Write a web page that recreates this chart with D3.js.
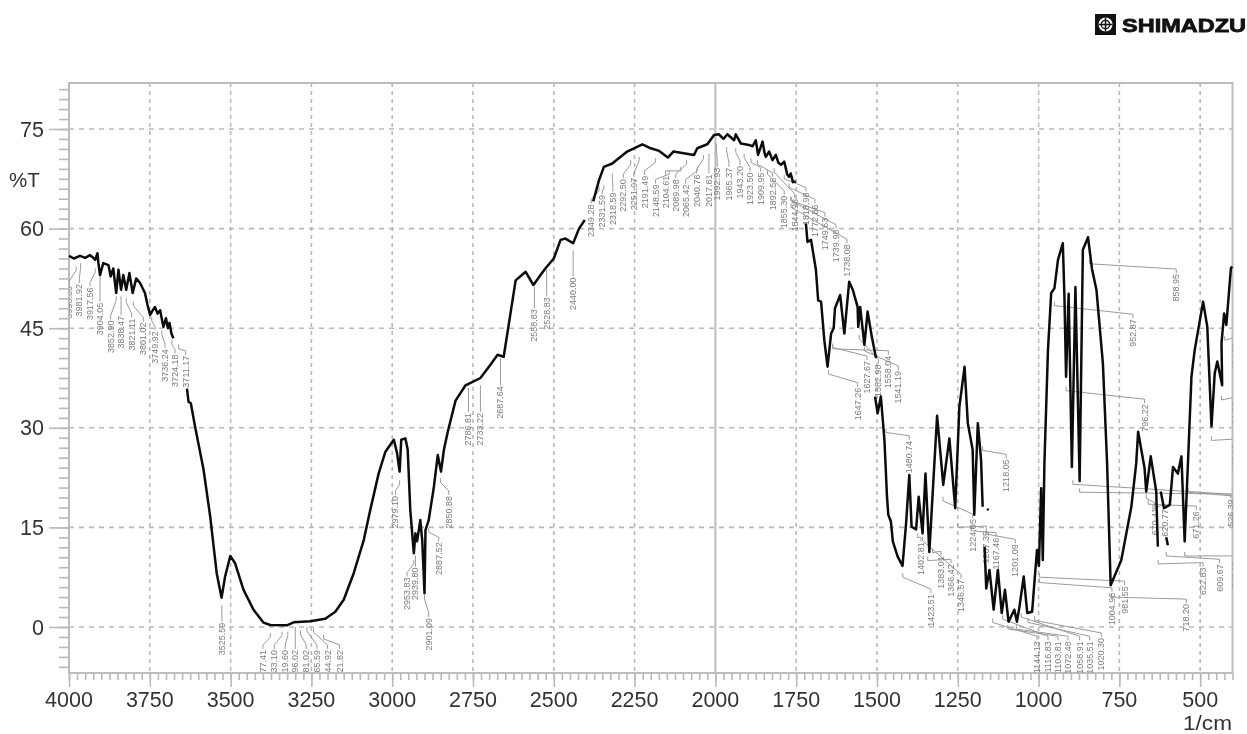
<!DOCTYPE html>
<html><head><meta charset="utf-8">
<script src="https://cdn.jsdelivr.net/npm/d3@7/dist/d3.min.js"></script>
<style>
html,body{margin:0;padding:0;background:#fff}
svg{display:block;filter:blur(0.55px)}
text{font-family:"Liberation Sans",Arial,sans-serif}
</style></head><body>
<svg id="chart" width="1247" height="734"></svg>
<script>
// [wavenumber (1/cm), %T]; null marks a break in the printed trace
const spectrum = [
[4000,55.9],[3985,55.5],[3966,55.9],[3950,55.6],[3935,56.0],[3925,55.6],[3919,55.3],[3912,56.3],[3909,54.8],[3904,53.0],[3894,54.8],[3878,54.5],[3871,52.8],[3863,54.0],[3854,50.3],[3847,53.8],[3839,50.8],[3832,53.0],[3823,50.8],[3813,53.3],[3803,50.3],[3792,52.5],[3780,51.8],[3765,50.3],[3757,48.5],[3749,47.0],[3742,47.6],[3734,48.2],[3726,47.2],[3718,47.7],[3708,45.2],[3700,46.5],[3694,45.0],[3689,45.8],[3683,44.2],[3677,43.5],null,
[3635,35.9],[3630,33.9],[3623,33.7],[3610,30.2],[3584,23.8],[3563,16.6],[3543,8.1],[3528,4.4],[3517,7.6],[3501,10.7],[3486,9.6],[3460,5.6],[3429,2.6],[3398,0.65],[3377,0.3],[3326,0.25],[3305,0.7],[3254,0.85],[3207,1.25],[3176,2.3],[3150,4.1],[3119,8.1],[3088,13.1],[3068,17.6],[3042,23.1],[3021,26.4],[2995,28.2],[2985,26.2],[2977,23.4],[2972,28.2],[2959,28.4],[2952,26.7],[2944,17.6],[2933,11.1],[2928,14.1],[2923,12.9],[2913,16.1],[2907,13.0],[2900,5.1],[2897,14.6],[2887,16.1],[2871,21.1],[2859,25.9],[2849,23.4],[2840,26.7],[2828,29.4],
[2804,34.1],[2773,36.4],[2727,37.5],[2696,39.5],[2674,41.0],[2655,40.7],[2618,52.2],[2587,53.5],[2563,51.5],[2541,53.0],[2526,54.0],[2500,55.5],[2479,58.3],[2464,58.5],[2440,57.8],[2422,60.0],[2404,61.3],null,
[2378,64.1],[2360,67.3],[2345,69.3],[2319,69.8],[2273,71.6],[2226,72.7],[2200,72.1],[2174,71.7],[2147,70.7],[2130,71.6],[2066,71.1],[2056,72.1],[2025,72.7],[2004,74.1],[1989,74.2],[1975,73.5],[1963,74.2],[1942,73.3],[1937,74.2],[1921,72.8],[1896,72.6],[1885,72.4],[1875,73.3],[1868,71.1],[1854,73.1],[1848,71.4],[1844,70.8],[1834,71.6],[1823,70.3],[1813,71.1],[1805,69.9],[1797,69.6],[1787,70.1],[1778,68.2],[1772,67.8],[1767,68.3],[1760,67.0],[1751,67.1],null,
[1720,60.8],[1715,58.0],[1704,58.3],[1689,53.8],[1682,49.2],[1673,49.0],[1663,43.2],[1653,39.2],[1642,44.2],[1634,45.0],[1630,48.0],[1614,50.0],[1601,44.2],[1586,52.0],[1575,50.8],[1560,48.2],[1558,45.2],[1552,48.2],[1539,42.5],[1529,47.5],[1516,43.7],[1503,40.5],null,
[1506,34.7],[1498,32.2],[1488,34.7],[1477,28.2],[1469,19.6],[1465,16.9],[1457,15.9],[1451,12.9],[1436,10.6],[1421,9.2],[1410,15.6],[1400,22.9],[1393,15.1],[1379,14.7],[1371,19.6],[1359,14.1],[1350,23.1],[1338,11.3],[1326,21.6],[1314,31.8],[1295,21.4],[1276,28.4],[1258,17.9],[1245,33.2],[1229,39.2],[1219,30.7],[1204,26.7],[1199,16.9],[1188,30.7],[1178,25.2],[1173,18.1],null,
[1159,17.8],[1155,17.6],null,
[1167,12.1],[1162,5.8],[1152,8.6],[1139,2.6],[1126,8.6],[1114,2.1],[1104,5.6],[1093,0.8],[1075,2.6],[1067,0.8],[1059,3.1],[1046,7.6],[1035,2.1],[1020,2.3],[1005,11.6],[999,9.2],[992,20.9],[987,10.1],[982,24.6],[971,41.7],[961,50.3],[951,51.0],[940,55.3],[925,57.8],[920,49.7],[915,37.7],[907,50.2],[897,24.1],[886,51.2],[873,22.0],[863,56.8],[847,58.7],[835,54.0],[821,50.8],[801,39.7],[788,24.6],[777,6.3],[744,10.1],[713,18.1],[698,24.6],[692,29.4],[672,23.9],[667,20.4],[653,25.7],[636,20.4],[631,12.1],null,
[622,20.4],[612,17.9],[594,18.4],[584,24.1],[569,23.1],[558,25.7],[548,12.9],[537,25.7],[527,37.7],[517,41.7],[491,49.0],[478,45.2],[465,30.2],[455,38.2],[447,40.0],[432,36.4],[434,42.7],[426,47.2],[419,45.5],[405,54.0],[401,54.3],null,
[605,13.5],[600,12.3]
];

// [label, peak wavenumber, peak %T, label wavenumber, label top %T]
const peakLabels = [
["3993.35",3978,54.3,3999,51.5],["3981.92",3964,54.8,3968,51.8],["3917.56",3919,54.0,3935,51.3],["3904.05",3904,52.8,3904,49.0],
["3852.90",3854,49.8,3871,46.3],["3838.47",3839,49.8,3839,47.0],["3821.11",3823,49.5,3806,46.6],["3801.02",3801,49.0,3770,46.0],
["3749.92",3744,46.7,3734,44.7],["3736.24",3713,44.7,3703,42.0],["3724.18",3682,43.2,3672,41.2],["3711.17",3661,42.5,3639,41.0],
["3525.59",3527,3.3,3527,0.8],["3377.41",3377,-0.95,3400,-3.3],["3333.10",3341,-0.7,3365,-3.3],["3319.60",3323,-0.7,3331,-3.3],
["3296.02",3300,0,3300,-3.3],["3281.02",3284,-0.5,3266,-3.3],["3265.59",3264,0,3233,-3.3],["3244.92",3243,-0.2,3200,-3.3],["3221.82",3212,-1.2,3163,-3.3],
["2979.10",2977,22.1,2990,19.9],["2953.83",2933,10.1,2954,7.6],["2939.80",2928,10.8,2928,9.1],["2901.09",2900,4.8,2887,1.5],["2887.52",2887,14.9,2856,12.9],["2850.88",2851,22.4,2825,19.9],
["2786.81",2764,36.0,2764,32.4],["2733.22",2727,36.4,2727,32.4],["2687.64",2665,40.5,2665,36.4],
["2558.83",2560,51.2,2560,48.0],["2528.83",2522,53.8,2522,49.8],["2440.00",2440,56.7,2440,52.8],
["2349.28",2360,66.3,2384,63.8],["2331.59",2345,66.5,2350,65.2],["2318.59",2319,68.3,2317,65.6],["2292.50",2262,70.3,2285,67.6],["2251.97",2236,70.8,2252,67.8],["2191.49",2185,70.6,2219,68.1],["2148.59",2143,68.8,2185,66.8],["2104.61",2107,69.3,2154,68.1],["2089.98",2089,70.3,2123,67.6],["2065.42",2056,69.3,2092,66.8],["2040.76",2037,71.1,2058,68.3],["2017.61",2020,71.3,2020,68.3],
["1992.93",1997,72.8,1994,69.3],["1965.37",1965,72.3,1958,69.3],["1943.20",1937,72.1,1924,69.6],["1923.50",1911,71.3,1893,68.6],["1909.95",1890,70.6,1860,68.6],["1892.56",1870,70.3,1823,67.8],["1855.30",1839,68.8,1787,65.1],["1844.98",1818,69.1,1754,64.6],["1818.98",1787,68.1,1720,65.6],["1772.86",1772,66.8,1692,63.8],["1749.63",1766,64.8,1661,61.8],["1739.98",1766,64.8,1627,60.0],["1738.08",1766,63.8,1593,57.8],
["1647.26",1650,38.7,1560,36.2],["1627.67",1637,42.7,1531,40.2],["1582.98",1555,44.0,1496,39.7],["1558.04",1637,42.5,1465,41.0],["1541.19",1539,42.2,1434,38.7],
["1480.74",1472,29.9,1400,28.2],["1423.51",1420,8.1,1333,5.1],["1402.81",1374,14.1,1364,12.9],["1383.01",1328,11.8,1302,10.8],["1366.42",1343,10.6,1271,9.6],["1346.57",1359,13.6,1240,7.3],
["1218.05",1173,27.2,1100,25.4],["1224.05",1296,19.6,1204,16.4],["1207.35",1250,15.6,1162,14.6],["1167.46",1209,15.1,1131,13.6],["1201.09",1162,14.6,1072,12.6],
["1144.13",1142,1.3,1005,-2.0],["1116.83",1111,1.8,971,-2.0],["1103.81",1095,0.3,940,-2.0],["1072.48",1069,0.3,909,-2.0],["1058.91",1054,2.1,873,-2.0],["1035.51",1033,1.3,842,-2.0],["1020.30",1013,1.6,806,-1.5],
["858.95",842,55.3,574,53.3],["952.87",951,49.0,708,46.5],["796.22",915,36.2,672,33.7],
["1004.96",997,7.3,773,5.3],["981.55",997,8.1,734,6.3],["718.20",775,5.1,543,3.6],["622.83",630,10.1,491,9.1],["609.67",605,11.3,440,9.6],
["526.39",894,22.1,405,19.4],["671.26",661,19.1,512,17.6],["670.41",667,20,641,18.1],["620.77",646,18.4,608,17.9],
["465.11",465,28.7,392,27.7],["434.62",434,34.8,392,34.0],["424.30",424,43.8,392,43.0],["873.20",873,20.9,392,19.4],["548.10",548,11.3,392,10.1],["537.44",537,20.9,392,19.1]
];

const majorWn = [4000,3750,3500,3250,3000,2750,2500,2250,2000,1750,1500,1250,1000,750,500];
const majorT = [75,60,45,30,15,0];
const yTitle = "%T", xTitle = "1/cm", brand = "SHIMADZU";

const svg = d3.select("#chart");
const x = d3.scaleLinear().domain([4000,400]).range([69,1232.5]);
const y = d3.scaleLinear().domain([0,75]).range([627,129]);
const plotTop = 83, plotBottom = 673, plotLeft = x(4000), plotRight = x(400);
const grey = "#b9b9b9";

svg.append("clipPath").attr("id","plot").append("rect").attr("x",plotLeft).attr("y",plotTop).attr("width",plotRight-plotLeft).attr("height",plotBottom-plotTop);

// grid
svg.append("g").selectAll("line").data(majorWn.slice(1)).join("line")
  .attr("x1",d=>x(d)).attr("x2",d=>x(d)).attr("y1",plotTop).attr("y2",plotBottom)
  .attr("stroke",d=>d===2000?"#bdbdbd":grey).attr("stroke-width",d=>d===2000?2:1.6).attr("stroke-dasharray",d=>d===2000?null:"4 4");
svg.append("g").selectAll("line").data(majorT).join("line")
  .attr("x1",plotLeft).attr("x2",plotRight).attr("y1",d=>y(d)).attr("y2",d=>y(d))
  .attr("stroke",grey).attr("stroke-width",1.6).attr("stroke-dasharray","5 5");

// axes via d3-axis
const xMinor = d3.range(4000,399,-25);
const yMinor = d3.range(-6,82,1.5);
const styleAxis = g => { g.selectAll("path").remove(); g.selectAll("line").attr("stroke",grey).attr("stroke-width",1.6); };
svg.append("g").attr("transform",`translate(0,${plotBottom})`).call(d3.axisBottom(x).tickValues(xMinor).tickSize(7).tickFormat("")).call(styleAxis);
svg.append("g").attr("transform",`translate(0,${plotBottom})`).call(d3.axisBottom(x).tickValues(majorWn).tickSize(14).tickFormat("")).call(styleAxis);
svg.append("g").attr("transform",`translate(${plotLeft},0)`).call(d3.axisLeft(y).tickValues(yMinor).tickSize(10).tickFormat("")).call(styleAxis);
svg.append("g").attr("transform",`translate(${plotLeft},0)`).call(d3.axisLeft(y).tickValues(majorT).tickSize(20).tickFormat("")).call(styleAxis);

svg.append("rect").attr("x",plotLeft).attr("y",plotTop).attr("width",plotRight-plotLeft).attr("height",plotBottom-plotTop)
  .attr("fill","none").attr("stroke","#bcbcbc").attr("stroke-width",2);

// tick labels
svg.append("g").selectAll("text").data(majorWn).join("text")
  .attr("x",d=>x(d)).attr("y",707).attr("text-anchor","middle").attr("font-size",21.5).attr("fill","#333").text(d=>d);
svg.append("g").selectAll("text").data(majorT).join("text")
  .attr("x",44).attr("y",d=>y(d)+7.5).attr("text-anchor","end").attr("font-size",21.5).attr("fill","#333").text(d=>d);
svg.append("text").attr("x",9).attr("y",187).attr("font-size",20.5).attr("fill","#333").text(yTitle);
svg.append("text").attr("x",1183).attr("y",729.5).attr("font-size",20.5).attr("fill","#333")
  .attr("textLength",49).attr("lengthAdjust","spacingAndGlyphs").text(xTitle);

// peak leaders and labels
const labels = svg.append("g").attr("clip-path","url(#plot)");
const lead = 4;
labels.selectAll("path").data(peakLabels).join("path")
  .attr("fill","none").attr("stroke","#9a9a9a").attr("stroke-width",1)
  .attr("d",d=>{
    const x0=x(d[1]),y0=y(d[2]),x1=x(d[3]),y1=y(d[4]);
    const p=d3.path(); p.moveTo(x0,y0); p.lineTo(x0,y0+lead);
    p.lineTo(x1,y1-lead); p.lineTo(x1,y1); return p.toString();
  });
labels.selectAll("text").data(peakLabels).join("text")
  .attr("transform",d=>`translate(${x(d[3])+3},${y(d[4])+1}) rotate(-90)`)
  .attr("text-anchor","end").attr("font-size",9).attr("fill","#7c7c7c").text(d=>d[0]);

// spectrum
const line = d3.line().defined(d=>d!==null).x(d=>x(d[0])).y(d=>y(d[1]));
svg.append("path").datum(spectrum).attr("fill","none").attr("stroke","#0c0c0c")
  .attr("stroke-width",2.5).attr("stroke-linejoin","round").attr("d",line);

// brand mark
const mark = svg.append("g").attr("transform","translate(1095,14)");
mark.append("rect").attr("width",21).attr("height",21).attr("fill","#111");
mark.append("circle").attr("cx",10.5).attr("cy",10.5).attr("r",7).attr("fill","#fff");
mark.append("circle").attr("cx",10.5).attr("cy",10.5).attr("r",4.2).attr("fill","none").attr("stroke","#111").attr("stroke-width",1.3);
mark.append("path").attr("d","M3.5 10.5H17.5M10.5 3.5V17.5").attr("stroke","#111").attr("stroke-width",1.5);
svg.append("text").attr("x",1122).attr("y",31.5).attr("font-size",19).attr("font-weight",700)
  .attr("fill","#111").attr("stroke","#111").attr("stroke-width",0.8)
  .attr("textLength",124).attr("lengthAdjust","spacingAndGlyphs").text(brand);
</script>
</body></html>
